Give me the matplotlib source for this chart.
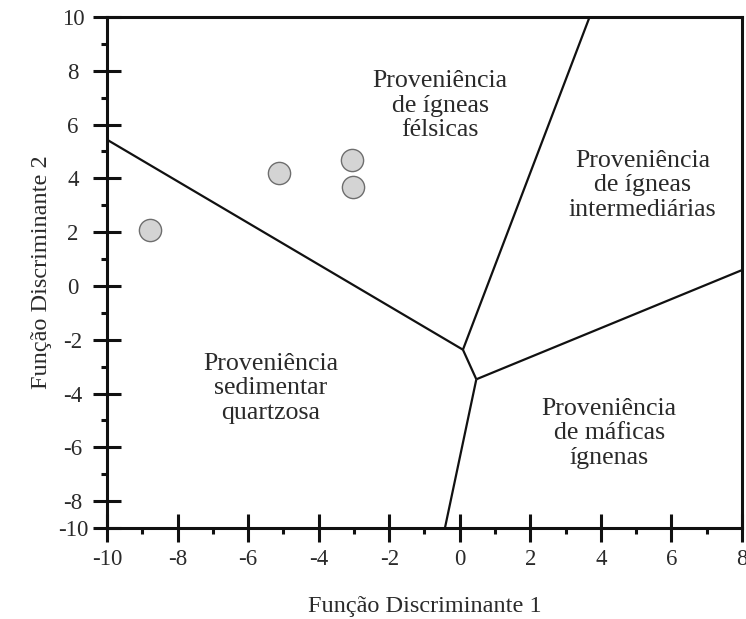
import numpy as np
import matplotlib
matplotlib.use("Agg")
import matplotlib.pyplot as plt
from matplotlib.ticker import FixedLocator, FixedFormatter

plt.rcParams['font.family'] = ['Liberation Serif', 'DejaVu Serif']
plt.rcParams['axes.unicode_minus'] = False

# amostras (FD1, FD2)
fd1 = [-8.78, -5.13, -3.06, -3.03]
fd2 = [2.07, 4.19, 4.70, 3.67]

# limites dos campos de proveniência
linha_sedimentar = ([-10, 0.09], [5.44, -2.37])
linha_felsica = ([0.09, 3.68], [-2.37, 10])
linha_centro = ([0.09, 0.47], [-2.37, -3.47])
linha_mafica = ([0.47, 8], [-3.47, 0.59])
linha_base = ([0.47, -0.42], [-3.47, -9])

campos = ["Proveniência\nde ígneas\nfélsicas",
          "Proveniência\nde ígneas\nintermediárias",
          "Proveniência\nsedimentar\nquartzosa",
          "Proveniência\nde máficas\nígnenas"]
campos_x = [-0.55, 5.18, -5.35, 4.24]
campos_y = [6.70, 3.74, -3.81, -5.48]

xticks = [-10, -8, -6, -4, -2, 0, 2, 4, 6, 8]
yticks = [-9, -8, -6, -4, -2, 0, 2, 4, 6, 8, 10]
ytick_labels = ["-10", "-8", "-6", "-4", "-2", "0", "2", "4", "6", "8", "10"]

fig = plt.figure(figsize=(7.46, 6.19), dpi=100)
ax = fig.add_axes([0.1434, 0.147, 0.8512, 0.8255])

for xs, ys in [linha_sedimentar, linha_felsica, linha_centro, linha_mafica, linha_base]:
    ax.plot(xs, ys, color='#111111', lw=1.6, solid_capstyle='butt')

ax.plot(fd1, fd2, 'o', ms=16, mfc='#d4d4d4', mec='#6e6e6e', mew=1.0, zorder=5)

for t, x, y in zip(campos, campos_x, campos_y):
    ax.text(x, y, t, ha='center', va='center', fontsize=18.6,
            linespacing=1.14, color='#2a2a2a')

ax.set_xlim(-10, 8)
ax.set_ylim(-9, 10)

ax.xaxis.set_major_locator(FixedLocator(xticks))
ax.xaxis.set_minor_locator(FixedLocator(np.arange(-9, 8, 2)))
ax.yaxis.set_major_locator(FixedLocator(yticks))
ax.yaxis.set_major_formatter(FixedFormatter(ytick_labels))
ax.yaxis.set_minor_locator(FixedLocator(np.arange(-7, 10, 2)))

ax.tick_params(which='major', direction='inout', length=20, width=2.2,
               labelsize=16.5, colors='#111111', labelcolor='#2a2a2a')
ax.tick_params(axis='x', which='major', pad=5)
ax.tick_params(axis='y', which='major', pad=14.5)
ax.tick_params(which='minor', direction='out', length=4.5, width=2.2,
               colors='#111111')
ax.tick_params(top=False, right=False, which='both')
for lbl in ax.get_yticklabels():
    lbl.set_horizontalalignment('center')

for s in ax.spines.values():
    s.set_linewidth(2.2)
    s.set_color('#111111')

ax.set_xlabel("Função Discriminante 1", fontsize=17.5, labelpad=19, color='#2a2a2a')
ax.set_ylabel("Função Discriminante 2", fontsize=17.5, labelpad=4, color='#2a2a2a')

fig.savefig("out.png", dpi=100)
